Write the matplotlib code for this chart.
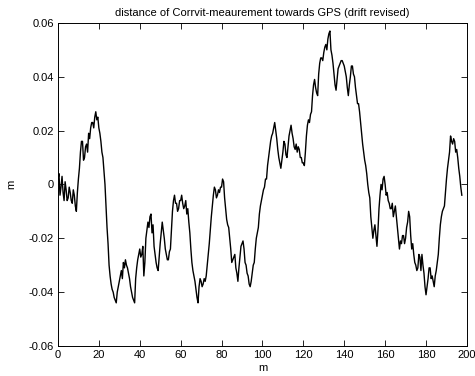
import numpy as np
import matplotlib
matplotlib.use("Agg")
import matplotlib.pyplot as plt

# offset between Corrvit track and GPS, sampled every half metre (m)
step = 0.5
dist = [
    0.002, 0.004, -0.004, -0.001, 0.003, -0.003, -0.006, 0.001, -0.002, -0.006,
    -0.005, -0.001, -0.003, -0.006, -0.007, -0.002, -0.004, -0.008, -0.010, -0.003,
    0.002, 0.006, 0.012, 0.016, 0.016, 0.009, 0.010, 0.014, 0.015, 0.012,
    0.019, 0.017, 0.021, 0.023, 0.023, 0.021, 0.025, 0.027, 0.024, 0.025,
    0.021, 0.019, 0.016, 0.012, 0.010, 0.005, 0.000, -0.008, -0.016, -0.022,
    -0.030, -0.034, -0.037, -0.039, -0.040, -0.042, -0.043, -0.044, -0.040, -0.038,
    -0.036, -0.034, -0.032, -0.035, -0.029, -0.031, -0.028, -0.030, -0.031, -0.033,
    -0.035, -0.038, -0.040, -0.042, -0.043, -0.044, -0.035, -0.031, -0.028, -0.026,
    -0.024, -0.027, -0.026, -0.023, -0.034, -0.029, -0.020, -0.017, -0.014, -0.016,
    -0.012, -0.011, -0.018, -0.015, -0.023, -0.026, -0.029, -0.031, -0.032, -0.027,
    -0.022, -0.018, -0.014, -0.017, -0.020, -0.024, -0.026, -0.028, -0.028, -0.025,
    -0.024, -0.017, -0.010, -0.006, -0.004, -0.007, -0.007, -0.010, -0.009, -0.006,
    -0.006, -0.004, -0.007, -0.009, -0.008, -0.006, -0.011, -0.009, -0.014, -0.018,
    -0.024, -0.029, -0.032, -0.034, -0.036, -0.039, -0.042, -0.044, -0.038, -0.035,
    -0.036, -0.038, -0.037, -0.035, -0.036, -0.034, -0.030, -0.026, -0.022, -0.017,
    -0.012, -0.008, -0.004, -0.001, -0.002, -0.005, -0.004, -0.002, -0.003, -0.001,
    -0.001, 0.002, 0.001, -0.005, -0.009, -0.013, -0.015, -0.016, -0.020, -0.024,
    -0.029, -0.028, -0.027, -0.026, -0.031, -0.033, -0.036, -0.031, -0.027, -0.023,
    -0.022, -0.021, -0.024, -0.029, -0.030, -0.033, -0.034, -0.037, -0.038, -0.036,
    -0.033, -0.030, -0.029, -0.024, -0.020, -0.018, -0.016, -0.011, -0.008, -0.006,
    -0.004, -0.002, -0.001, 0.002, 0.002, 0.007, 0.010, 0.013, 0.016, 0.018,
    0.019, 0.021, 0.023, 0.020, 0.017, 0.013, 0.010, 0.008, 0.006, 0.009,
    0.012, 0.016, 0.015, 0.011, 0.010, 0.014, 0.018, 0.020, 0.022, 0.019,
    0.017, 0.014, 0.013, 0.015, 0.012, 0.014, 0.013, 0.010, 0.010, 0.008,
    0.008, 0.007, 0.012, 0.018, 0.022, 0.024, 0.023, 0.026, 0.027, 0.033,
    0.037, 0.039, 0.036, 0.034, 0.033, 0.041, 0.045, 0.047, 0.047, 0.046,
    0.049, 0.051, 0.052, 0.050, 0.054, 0.056, 0.057, 0.050, 0.048, 0.045,
    0.041, 0.037, 0.035, 0.039, 0.043, 0.044, 0.045, 0.046, 0.046, 0.045,
    0.044, 0.042, 0.040, 0.036, 0.033, 0.037, 0.040, 0.044, 0.044, 0.041,
    0.040, 0.036, 0.033, 0.030, 0.030, 0.027, 0.023, 0.019, 0.015, 0.012,
    0.009, 0.007, 0.004, 0.000, -0.003, -0.005, -0.012, -0.016, -0.020, -0.017,
    -0.015, -0.019, -0.023, -0.017, -0.009, -0.004, 0.000, -0.002, 0.002, 0.003,
    0.000, -0.004, -0.003, -0.006, -0.007, -0.009, -0.009, -0.007, -0.012, -0.010,
    -0.008, -0.012, -0.016, -0.020, -0.024, -0.021, -0.022, -0.019, -0.019, -0.022,
    -0.020, -0.016, -0.014, -0.010, -0.012, -0.019, -0.024, -0.022, -0.026, -0.029,
    -0.030, -0.032, -0.031, -0.026, -0.027, -0.032, -0.026, -0.030, -0.033, -0.038,
    -0.041, -0.038, -0.035, -0.031, -0.031, -0.035, -0.034, -0.036, -0.038, -0.034,
    -0.032, -0.029, -0.026, -0.020, -0.015, -0.012, -0.010, -0.009, -0.008, -0.003,
    0.002, 0.006, 0.009, 0.012, 0.018, 0.016, 0.015, 0.017, 0.016, 0.012,
    0.013, 0.010, 0.006, 0.003, -0.001, -0.004,
]
xticks = [0, 20, 40, 60, 80, 100, 120, 140, 160, 180, 200]
yticks = [-0.06, -0.04, -0.02, 0, 0.02, 0.04, 0.06]
ytick_labels = ["-0.06", "-0.04", "-0.02", "0", "0.02", "0.04", "0.06"]

plt.rcParams["font.family"] = ["Liberation Sans", "DejaVu Sans"]

fig = plt.figure(figsize=(4.75, 3.76), dpi=100)
ax = fig.add_axes([0.122, 0.080, 0.861, 0.859])

pos = np.arange(len(dist)) * step
ax.plot(pos, dist, color="black", linewidth=1.0)

ax.set_xlim(0, 200)
ax.set_ylim(-0.06, 0.06)
ax.set_xticks(xticks)
ax.set_yticks(yticks)
ax.set_yticklabels(ytick_labels)
ax.tick_params(direction="in", length=4, width=0.6, labelsize=8,
               top=True, right=True, pad=3)
for s in ax.spines.values():
    s.set_linewidth(0.7)

ax.set_title("distance of Corrvit-meaurement towards GPS (drift revised)",
             fontsize=8, pad=5)
ax.set_xlabel("m", fontsize=8, labelpad=2)
ax.set_ylabel("m", fontsize=8, labelpad=9)

fig.savefig("out.png", dpi=100)
